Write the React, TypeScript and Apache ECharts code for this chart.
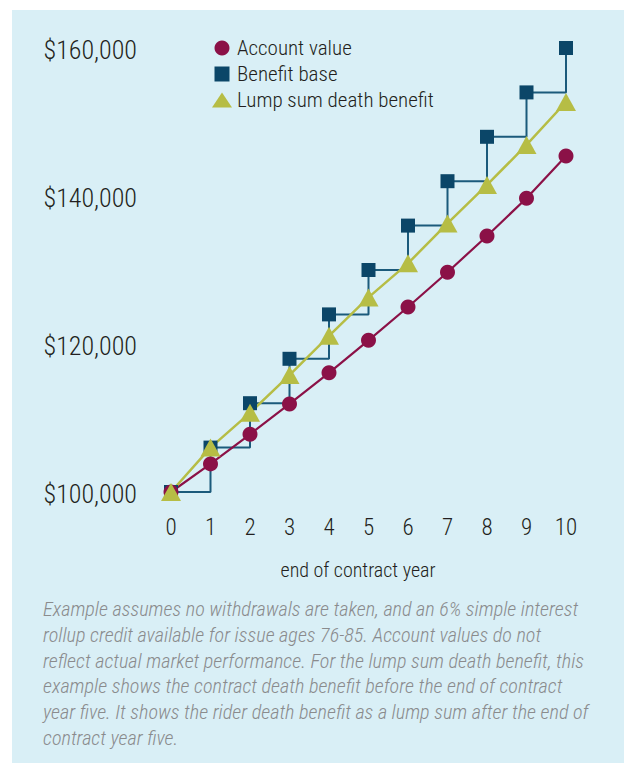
import React, { useEffect, useRef } from "react";
import * as echarts from "echarts";

const years = [0, 1, 2, 3, 4, 5, 6, 7, 8, 9, 10];
const accountValue = [100000, 103800, 107800, 111900, 116100, 120500, 125000, 129700, 134600, 139700, 145400];
const benefitBase = [100000, 106000, 112000, 118000, 124000, 130000, 136000, 142000, 148000, 154000, 160000];
const lumpSum = [100000, 106000, 110700, 115800, 121100, 126300, 130900, 136300, 141500, 146900, 152700];
const yMin = 100000;
const yMax = 160000;
const yStep = 20000;
const seriesNames = ["Account value", "Benefit base", "Lump sum death benefit"];
const xTitle = "end of contract year";
const footnoteLines = [
  "Example assumes no withdrawals are taken, and an 6% simple interest",
  "rollup credit available for issue ages 76-85. Account values do not",
  "reflect actual market performance. For the lump sum death benefit, this",
  "example shows the contract death benefit before the end of contract",
  "year five. It shows the rider death benefit as a lump sum after the end of",
  "contract year five.",
];

const FONT = '"Liberation Sans Narrow", "Roboto Condensed", "DejaVu Sans Condensed", "Liberation Sans", sans-serif';
const C_AV = "#8b1147";
const C_BB = "#0b4668";
const C_BB_LINE = "#1b5a7b";
const C_LS = "#b6bd45";
const TEXT = "#231f20";
const W = 300;

export default function App() {
  const ref = useRef<HTMLDivElement>(null);
  useEffect(() => {
    if (!ref.current) return;
    const chart = echarts.init(ref.current, undefined, { renderer: "svg" });
    const pairs = (vals: number[]) => years.map((y, i) => [y, vals[i]]);
    chart.setOption({
      animation: false,
      backgroundColor: "#ffffff",
      graphic: [
        {
          type: "rect",
          z: -10,
          shape: { x: 12, y: 10, width: 612, height: 753 },
          style: { fill: "#d9eff6" },
        },
        {
          type: "text",
          x: 358,
          y: 570,
          style: {
            text: xTitle,
            fontFamily: FONT,
            fontSize: 20,
            fontWeight: W,
            fill: TEXT,
            align: "center",
            verticalAlign: "middle",
          },
        },
        {
          type: "text",
          x: 43,
          y: 596,
          style: {
            text: footnoteLines.join("\n"),
            fontFamily: FONT,
            fontSize: 20.2,
            fontWeight: W,
            fontStyle: "italic",
            lineHeight: 25.8,
            fill: "#8a8b8d",
            align: "left",
            verticalAlign: "top",
          },
        },
      ],
      legend: {
        orient: "vertical",
        left: 212,
        top: 35,
        padding: 0,
        itemWidth: 20,
        itemHeight: 15,
        itemGap: 0,
        itemTextGap: 13,
        textStyle: { fontFamily: FONT, fontSize: 21, fontWeight: W, color: TEXT, lineHeight: 26 },
        data: [
          { name: seriesNames[0], icon: "circle" },
          { name: seriesNames[1], icon: "path://M0 0H10V10H0Z" },
          { name: seriesNames[2], icon: "triangle" },
        ],
      },
      grid: { left: 171, right: 58, top: 48, bottom: 271, containLabel: false },
      xAxis: {
        type: "value",
        min: 0,
        max: 10,
        interval: 1,
        axisLine: { show: false },
        axisTick: { show: false },
        splitLine: { show: false },
        axisLabel: { fontFamily: FONT, fontSize: 23, fontWeight: W, color: TEXT, margin: 24 },
      },
      yAxis: {
        type: "value",
        min: yMin,
        max: yMax,
        interval: yStep,
        axisLine: { show: false },
        axisTick: { show: false },
        splitLine: { show: false },
        axisLabel: {
          fontFamily: FONT,
          fontSize: 26,
          fontWeight: W,
          color: TEXT,
          margin: 34,
          lineHeight: 34,
          verticalAlign: "top",
          padding: [-15, 0, 0, 0],
          formatter: (v: number) => "$" + v.toLocaleString("en-US"),
        },
      },
      series: [
        {
          name: seriesNames[1],
          type: "line",
          step: "end",
          data: pairs(benefitBase),
          symbol: "rect",
          symbolSize: 14,
          itemStyle: { color: C_BB },
          lineStyle: { color: C_BB_LINE, width: 2 },
        },
        {
          name: seriesNames[0],
          type: "line",
          data: pairs(accountValue),
          symbol: "circle",
          symbolSize: 15,
          itemStyle: { color: C_AV },
          lineStyle: { color: C_AV, width: 2.2 },
        },
        {
          name: seriesNames[2],
          type: "line",
          data: pairs(lumpSum),
          symbol: "triangle",
          symbolSize: [20, 18],
          itemStyle: { color: C_LS },
          lineStyle: { color: C_LS, width: 2.5 },
        },
      ],
    });
    return () => chart.dispose();
  }, []);
  return (
    <div
      ref={ref}
      style={{ position: "absolute", left: 0, top: 0, width: 624, height: 763 }}
    />
  );
}
